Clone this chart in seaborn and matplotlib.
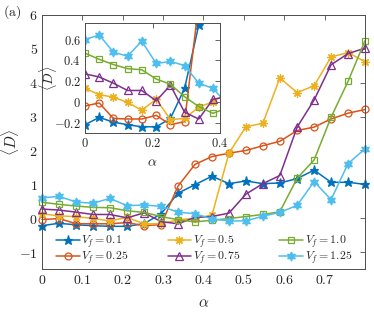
import numpy as np
import pandas as pd
import matplotlib
matplotlib.use('Agg')
import matplotlib.pyplot as plt
from matplotlib.ticker import FuncFormatter
import seaborn as sns

# alpha grid of the simulations
alpha = [0.0, 0.042, 0.084, 0.126, 0.168, 0.211, 0.253, 0.295, 0.337, 0.379,
         0.421, 0.463, 0.505, 0.547, 0.589, 0.632, 0.674, 0.716, 0.758, 0.8]

# <D> for each forcing amplitude V_f
d_vf010 = [-0.22, -0.15, -0.195, -0.22, -0.24, -0.24, -0.16, 0.13, 0.74, 0.99,
           1.24, 1.02, 1.10, 1.02, 1.04, 1.17, 1.42, 1.06, 1.06, 1.00]
d_vf025 = [-0.04, -0.01, -0.16, -0.165, -0.165, -0.13, -0.22, -0.19, 0.95, 1.59,
           1.82, 1.92, 2.00, 2.14, 2.27, 2.59, 2.69, 2.93, 3.10, 3.21]
d_vf050 = [0.13, 0.07, 0.045, -0.005, -0.08, 0.025, -0.17, -0.16, -0.05, 0.0,
           0.09, 1.92, 2.70, 2.80, 4.14, 3.71, 3.91, 4.76, 4.89, 4.62]
d_vf075 = [0.27, 0.24, 0.18, 0.11, 0.11, 0.01, 0.16, -0.10, -0.165, 0.025,
           0.05, 0.15, 0.71, 1.02, 1.26, 2.69, 3.49, 4.53, 4.86, 5.02]
d_vf100 = [0.47, 0.41, 0.36, 0.32, 0.31, 0.22, 0.17, 0.05, -0.045, -0.11,
           -0.06, -0.01, 0.05, 0.11, 0.19, 1.18, 1.72, 2.98, 4.04, 5.24]
d_vf125 = [0.60, 0.645, 0.48, 0.44, 0.585, 0.37, 0.39, 0.35, 0.18, 0.13,
           -0.02, -0.08, -0.08, 0.06, 0.17, 0.38, 1.08, 0.55, 1.61, 2.05]

labels = [r'$V_f = 0.1$', r'$V_f = 0.25$', r'$V_f = 0.5$',
          r'$V_f = 0.75$', r'$V_f = 1.0$', r'$V_f = 1.25$']
series = [d_vf010, d_vf025, d_vf050, d_vf075, d_vf100, d_vf125]

# MATLAB default colour order and marker per curve
colors = ['#0072BD', '#D95319', '#EDB120', '#7E2F8E', '#77AC30', '#4DBEEE']
markers = ['*', 'o', (8, 2, 0), '^', 's', (6, 1, 0)]
msizes = [6.5, 5, 6, 5.5, 4.5, 6.5]
filled = [True, False, True, False, False, True]

sns.set_style('white')
plt.rcParams['font.family'] = ['DejaVu Serif']
plt.rcParams['mathtext.fontset'] = 'cm'

fig = plt.figure(figsize=(3.74, 3.17), dpi=100)
ax = fig.add_axes([0.1123, 0.1514, 0.8636, 0.8013])
ax_in = fig.add_axes([0.2273, 0.5804, 0.361, 0.347])


def draw_curves(axis, with_labels, clip):
    for vals, lab, c, m, ms, f in zip(series, labels, colors, markers, msizes, filled):
        df = pd.DataFrame({'alpha': alpha, 'D': vals})
        sns.lineplot(data=df, x='alpha', y='D', ax=axis, color=c, marker=m,
                     markersize=ms, markeredgecolor=c,
                     markerfacecolor=c if f else 'none',
                     markeredgewidth=0.9, linewidth=1.1, estimator=None,
                     legend=False, clip_on=clip,
                     label=lab if with_labels else None)


fmt = FuncFormatter(lambda v, p: f'${v:g}$')


def style_axis(axis, size):
    for s in axis.spines.values():
        s.set_color('0.3')
        s.set_linewidth(0.7)
    axis.tick_params(direction='in', top=True, right=True, length=3.5,
                     width=0.6, color='0.3', labelsize=size, pad=3)
    axis.xaxis.set_major_formatter(fmt)
    axis.yaxis.set_major_formatter(fmt)


# main axes
draw_curves(ax, True, False)
ax.set_xlim(0, 0.8)
ax.set_ylim(-1.5, 6)
ax.set_xticks([0, 0.1, 0.2, 0.3, 0.4, 0.5, 0.6, 0.7])
ax.set_yticks([-1, 0, 1, 2, 3, 4, 5, 6])
style_axis(ax, 10)
ax.set_xlabel(r'$\alpha$', fontsize=11)
ax.set_ylabel(r'$\langle D\rangle$', fontsize=11)
ax.xaxis.set_label_coords(0.5, -0.106)
ax.yaxis.set_label_coords(-0.066, 0.5)

ax.legend(ncol=3, frameon=False, fontsize=8.5, loc='lower left',
          bbox_to_anchor=(0.025, -0.01), handlelength=2.0, handletextpad=0.15,
          columnspacing=3.3, labelspacing=-0.1, borderpad=0, numpoints=1)

# inset zoom on small alpha
ax_in.set_facecolor('white')
draw_curves(ax_in, False, True)
ax_in.set_xlim(0, 0.4)
ax_in.set_ylim(-0.3, 0.76)
ax_in.set_xticks([0, 0.2, 0.4])
ax_in.set_yticks([-0.2, 0, 0.2, 0.4, 0.6])
style_axis(ax_in, 9)
ax_in.set_xlabel(r'$\alpha$', fontsize=10)
ax_in.set_ylabel(r'$\langle D\rangle$', fontsize=10)
ax_in.xaxis.set_label_coords(0.5, -0.2)
ax_in.yaxis.set_label_coords(-0.195, 0.5)

fig.text(0.008, 0.962, r'$\mathrm{(a)}$', fontsize=10, va='center', ha='left')

fig.savefig('out.png', dpi=100)
